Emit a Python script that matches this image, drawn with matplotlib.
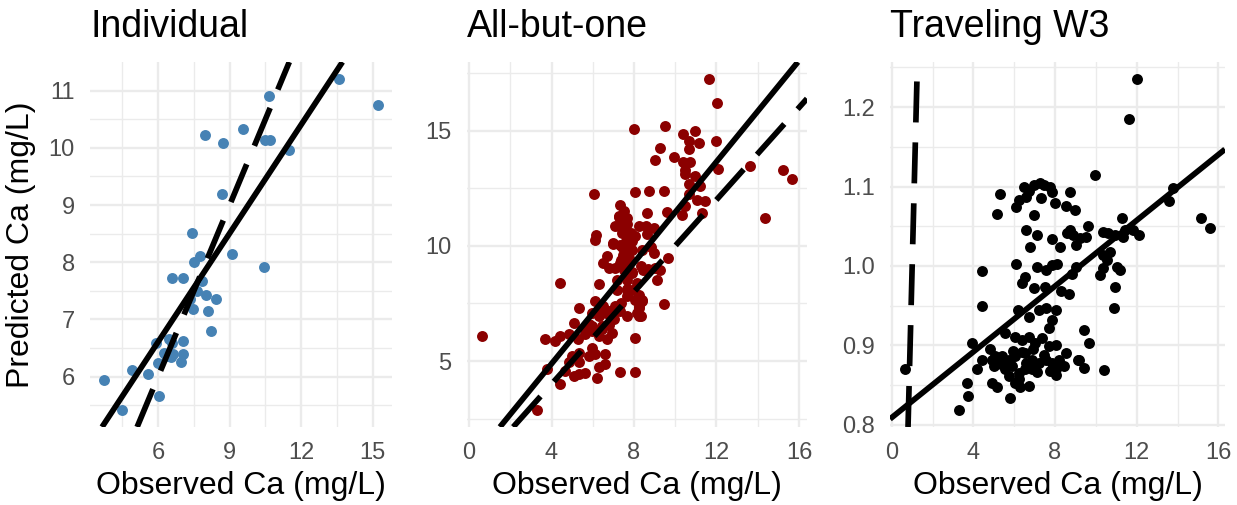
import numpy as np
import matplotlib.pyplot as plt

plt.rcParams['font.family'] = ['Liberation Sans', 'DejaVu Sans']

# ---- Individual ----
ind_obs = [3.72, 4.49, 4.89, 5.58, 6.02, 5.91, 6.01, 6.24, 6.39, 6.46, 6.60, 6.63,
           7.04, 7.04, 6.97, 6.59, 7.05, 7.40, 7.50, 7.75, 7.85, 7.64, 8.00, 7.47,
           8.11, 8.44, 8.23, 9.10, 8.66, 10.46, 7.32, 7.98, 8.72, 9.54, 10.49, 10.70,
           11.47, 10.66, 13.60, 15.23, 6.30, 6.55]
ind_pred = [5.94, 5.41, 6.11, 6.05, 5.66, 6.58, 6.23, 6.42, 6.36, 6.65, 6.59, 6.40,
            6.63, 6.40, 6.26, 7.72, 7.72, 8.51, 8.01, 8.11, 7.67, 7.49, 7.43, 7.18,
            7.15, 7.36, 6.80, 8.15, 9.20, 7.91, 7.36, 10.23, 10.09, 10.33, 10.13, 10.13,
            9.97, 10.91, 11.21, 10.75, 6.40, 6.35]

# ---- All-but-one ----
abo_obs = [11.66, 12.03, 7.99, 9.52, 10.37, 10.95, 10.66, 11.17, 11.98, 10.66, 9.25, 9.01,
           9.93, 10.37, 10.70, 10.49, 10.46, 12.08, 10.95, 10.66, 11.22, 6.05, 8.07, 8.72,
           9.44, 10.66, 11.06, 11.46, 10.49, 11.30, 7.34, 7.51, 7.26, 7.67, 8.64, 9.61,
           10.33, 6.16, 6.97, 7.26, 7.67, 7.42, 7.83, 8.23, 8.56, 8.96, 8.07, 8.64,
           7.91, 7.59, 7.07, 15.22, 15.64, 13.62, 14.36, 0.65, 8.40, 8.80,
           6.12, 6.96, 7.33, 7.74, 7.90, 7.49, 7.74, 7.33, 6.68, 6.52, 6.77, 7.06,
           7.90, 8.46, 8.70, 8.95, 9.03, 9.27, 9.67, 9.11, 4.42, 6.28, 7.17, 7.65,
           8.06, 8.41, 8.22, 9.46, 5.31, 6.09, 6.52, 6.77, 6.28, 7.09, 7.33, 7.65,
           8.22, 7.01, 6.77, 6.44, 5.96, 5.80, 5.63, 5.07, 4.83, 4.42, 4.18, 3.70,
           8.06, 5.28, 5.96, 6.12, 6.60, 5.80, 5.31, 4.99, 4.83, 5.31, 6.28, 6.60,
           4.67, 5.07, 5.31, 5.63, 6.20, 7.33, 8.06, 4.42, 3.78, 3.29,
           7.92, 8.32, 8.56, 8.16, 7.92, 8.24, 7.67, 7.35, 8.24, 8.40, 8.32, 8.16, 7.67,
           7.27, 7.43, 7.59, 7.67, 7.43, 7.59, 7.35, 7.75, 7.51, 7.19, 7.67,
           5.98, 6.30, 6.62, 6.87, 6.46, 5.98, 5.65, 6.95, 6.30, 6.70]
abo_pred = [17.26, 16.18, 15.06, 15.20, 14.86, 15.00, 14.53, 14.45, 14.57, 14.20, 14.24, 13.71,
            13.84, 13.62, 13.62, 13.30, 13.13, 13.33, 13.02, 12.70, 12.61, 12.26, 12.34, 12.40,
            12.37, 12.23, 12.01, 11.94, 11.72, 11.41, 11.77, 11.51, 11.29, 11.22, 11.41, 11.48,
            11.32, 10.46, 10.14, 10.86, 10.93, 10.57, 10.57, 10.86, 10.86, 10.79, 10.43, 10.50,
            10.22, 10.22, 10.86, 13.30, 12.89, 13.45, 11.22, 6.09, 9.83, 9.97,
            10.26, 10.09, 10.04, 10.11, 9.83, 9.61, 9.47, 9.25, 9.54, 9.25, 9.04, 9.04,
            8.85, 8.94, 8.99, 9.68, 9.04, 8.97, 9.47, 8.53, 8.39, 8.36, 8.10, 8.13,
            7.67, 7.60, 7.31, 7.46, 7.31, 7.60, 7.39, 7.17, 7.03, 7.39, 7.17, 6.95,
            6.95, 6.81, 6.55, 6.38, 6.31, 6.59, 6.16, 6.64, 6.16, 6.09, 5.88, 5.98,
            6.02, 5.95, 5.59, 5.30, 5.30, 5.23, 5.37, 5.23, 4.97, 4.94, 4.73, 4.87,
            4.58, 4.37, 4.44, 4.48, 4.25, 4.51, 4.54, 4.01, 4.66, 2.86,
            8.82, 9.11, 8.97, 8.39, 8.10, 7.89, 7.82, 7.53, 7.39, 7.67, 6.95, 7.10, 8.10,
            11.26, 10.98, 10.62, 10.33, 9.97, 9.68, 9.40, 9.25, 8.97, 8.53, 8.53,
            7.10, 6.95, 7.10, 6.81, 6.52, 6.52, 6.38, 6.24, 6.09, 5.95]

# ---- Traveling W3 ----
tw_obs = [12.01, 11.63, 9.95, 15.16, 15.58, 13.78, 13.57, 5.31, 5.18, 4.41, 4.44, 3.95,
          3.70, 3.75, 3.29, 0.66, 4.16, 4.44,
          6.50, 6.74, 6.99, 7.24, 7.48, 7.73, 7.86, 7.32, 6.58, 6.25, 6.09,
          8.72, 8.52, 8.96, 8.01, 6.99, 6.58, 7.11, 6.79, 7.86, 8.22, 8.59, 8.72, 8.88,
          9.05, 9.21, 9.59, 9.54,
          10.36, 10.61, 10.94, 10.69, 11.27, 11.35, 10.36, 10.53, 10.20, 10.36, 11.02, 11.18,
          10.94, 10.89, 11.84, 12.09, 11.43,
          6.09, 6.38, 6.55, 6.96, 7.13, 7.54, 7.87, 8.11, 7.50, 8.28, 8.69, 8.85, 9.02,
          6.19, 6.71, 7.21, 7.54, 8.03, 7.87, 7.70, 9.43, 9.64,
          5.56, 6.06, 6.38, 6.71, 7.04, 7.37, 7.70, 8.03,
          5.07, 5.40, 5.73, 6.06, 6.55, 6.88, 7.21, 7.54, 7.87, 8.19, 8.52, 8.03, 8.44,
          9.10, 9.43, 8.03,
          5.56, 5.89, 6.22, 6.55, 6.88, 5.73, 6.06, 6.30, 6.71,
          4.90, 5.15, 5.81, 4.82, 4.90, 4.99, 10.41, 9.18,
          6.40, 6.90, 7.45, 5.95, 6.60, 7.10, 5.35, 6.25, 7.75]
tw_pred = [1.236, 1.185, 1.115, 1.061, 1.048, 1.098, 1.082, 1.091, 1.065, 0.994, 0.949, 0.903,
           0.852, 0.836, 0.818, 0.870, 0.870, 0.882,
           1.100, 1.095, 1.102, 1.104, 1.102, 1.100, 1.093, 1.085, 1.087, 1.083, 1.074,
           1.093, 1.076, 1.070, 1.079, 1.064, 1.045, 1.039, 1.024, 1.034, 1.024, 1.042, 1.045, 1.039,
           1.026, 1.035, 1.050, 1.037,
           1.043, 1.041, 1.039, 1.018, 1.060, 1.037, 1.014, 1.007, 0.988, 0.997, 0.999, 0.995,
           0.974, 0.947, 1.045, 1.039, 1.045,
           1.003, 0.978, 0.986, 0.972, 0.999, 0.995, 1.001, 1.003, 0.974, 0.968, 0.965, 0.990, 0.999,
           0.945, 0.936, 0.945, 0.947, 0.945, 0.932, 0.922, 0.919, 0.903,
           0.915, 0.911, 0.907, 0.911, 0.903, 0.909, 0.899, 0.901,
           0.886, 0.886, 0.882, 0.886, 0.890, 0.882, 0.878, 0.882, 0.878, 0.882, 0.890, 0.870, 0.874,
           0.882, 0.872, 0.863,
           0.870, 0.874, 0.865, 0.870, 0.870, 0.861, 0.853, 0.847, 0.849,
           0.853, 0.847, 0.834, 0.895, 0.882, 0.874, 0.869, 0.882,
           0.892, 0.895, 0.888, 0.893, 0.878, 0.866, 0.876, 0.857, 0.868]

titles = ["Individual", "All-but-one", "Traveling W3"]
colors = ["#4682B4", "#8B0000", "#000000"]
fit_intercept = [2.81, 0.50, 0.809]
fit_slope = [0.633, 1.096, 0.0207]
x_major = [[6, 9, 12, 15], [0, 4, 8, 12, 16], [0, 4, 8, 12, 16]]
x_minor = [[4.5, 7.5, 10.5, 13.5], [2, 6, 10, 14], [2, 6, 10, 14]]
y_major = [[6, 7, 8, 9, 10, 11], [5, 10, 15], [0.8, 0.9, 1.0, 1.1, 1.2]]
y_minor = [[5.5, 6.5, 7.5, 8.5, 9.5, 10.5], [2.5, 7.5, 12.5, 17.5],
           [0.85, 0.95, 1.05, 1.15, 1.25]]
y_fmt = ["{:g}", "{:g}", "{:.1f}"]

datasets = [(ind_obs, ind_pred), (abo_obs, abo_pred), (tw_obs, tw_pred)]

W, H = 1237, 505
panel_px = [(90, 392), (467, 807), (890, 1225)]
top_px, bot_px = 62, 427

fig = plt.figure(figsize=(W / 100, H / 100), dpi=100)

for i, (obs, pred) in enumerate(datasets):
    l, r = panel_px[i]
    ax = fig.add_axes([l / W, (H - bot_px) / H, (r - l) / W, (bot_px - top_px) / H])
    obs = np.asarray(obs)
    pred = np.asarray(pred)

    ax.scatter(obs, pred, s=62, color=colors[i], linewidths=0, zorder=2)

    # 1:1 line (dashed) and fitted line (solid)
    ax.axline((0, fit_intercept[i]), slope=fit_slope[i], color='black', lw=4.1,
              solid_capstyle='butt', zorder=3)
    ax.axline((0, 0), slope=1, color='black', lw=4.1, linestyle=(0, (7.2, 3.5)),
              dash_capstyle='butt', zorder=3)

    # ggplot-like 5% expansion around the points only
    xr = obs.max() - obs.min()
    yr = pred.max() - pred.min()
    ax.set_xlim(obs.min() - 0.05 * xr, obs.max() + 0.05 * xr)
    ax.set_ylim(pred.min() - 0.05 * yr, pred.max() + 0.05 * yr)

    ax.set_xticks(x_major[i])
    ax.set_xticks(x_minor[i], minor=True)
    ax.set_yticks(y_major[i])
    ax.set_yticklabels([y_fmt[i].format(v) for v in y_major[i]])
    ax.set_yticks(y_minor[i], minor=True)
    ax.grid(which='major', color='#EBEBEB', lw=1.7, zorder=0)
    ax.grid(which='minor', color='#EBEBEB', lw=1.0, zorder=0)
    ax.set_axisbelow(True)
    ax.tick_params(which='both', length=0, pad=11, labelsize=17, labelcolor='#4D4D4D')
    for s in ax.spines.values():
        s.set_visible(False)

    ax.set_xlabel("Observed Ca (mg/L)", fontsize=23, labelpad=5)
    if i == 0:
        ax.set_ylabel("Predicted Ca (mg/L)", fontsize=23, labelpad=9)

    fig.text(l / W, (H - 37) / H, titles[i], fontsize=27, ha='left', va='baseline')

fig.savefig("out.png", dpi=100)
